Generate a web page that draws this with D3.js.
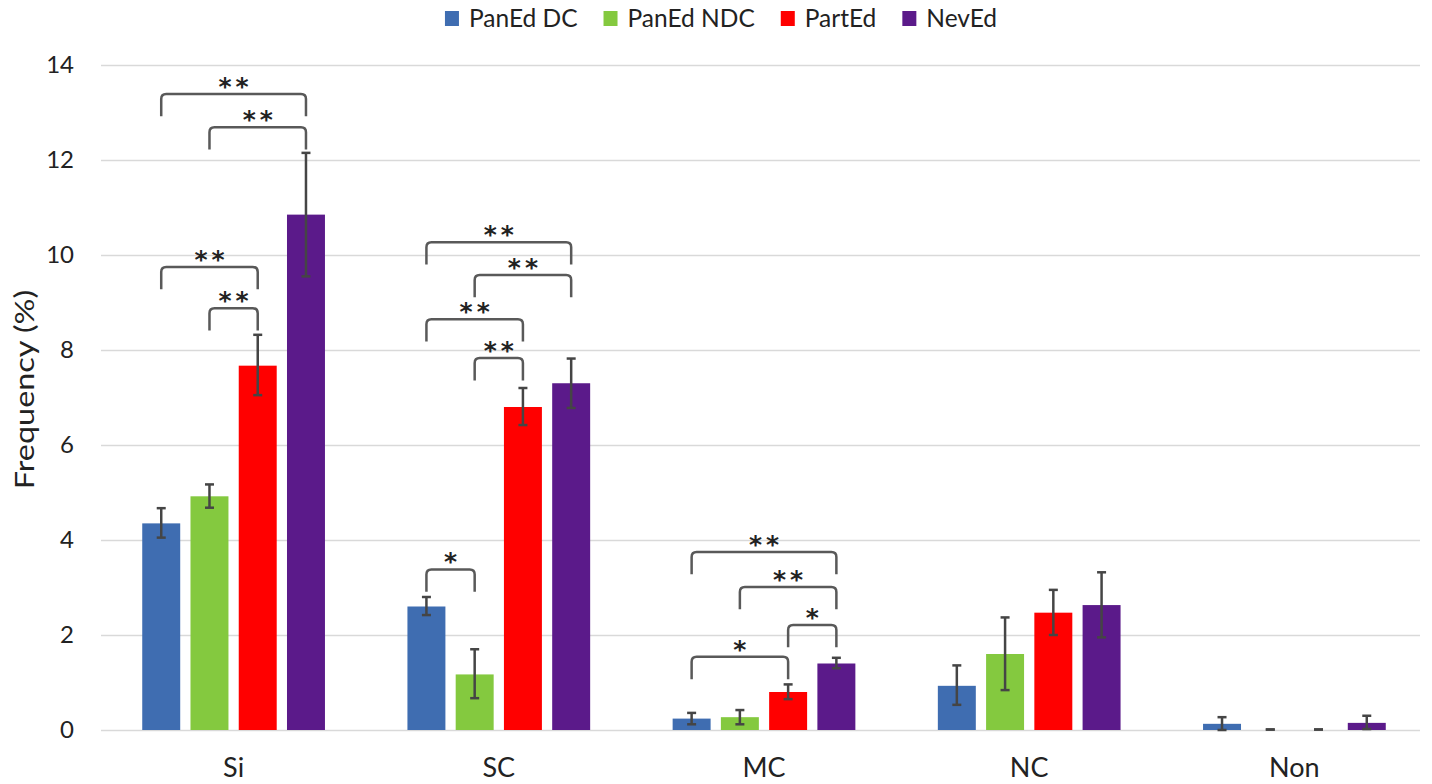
<!DOCTYPE html>
<html>
<head>
<meta charset="utf-8">
<script src="https://cdn.jsdelivr.net/npm/d3@7"></script>
<style>
  body { margin: 0; background: #fff; }
  text { font-family: Lato, "Open Sans", sans-serif; fill: #222; }
</style>
</head>
<body>
<div class="svg-container"></div>
<script>
// data
const categories = ['Si', 'SC', 'MC', 'NC', 'Non'];
const seriesNames = ['PanEd DC', 'PanEd NDC', 'PartEd', 'NevEd'];
const seriesColours = ['#3f6db1', '#84c93f', '#ff0000', '#5b1a8a'];

const panEdDC  = [4.35, 2.60, 0.24, 0.93, 0.13];
const panEdNDC = [4.92, 1.17, 0.27, 1.60, 0.00];
const partEd   = [7.67, 6.80, 0.80, 2.47, 0.00];
const nevEd    = [10.85, 7.30, 1.40, 2.63, 0.15];

// error bar lows / highs
const panEdDCLo  = [4.05, 2.42, 0.12, 0.53, 0.00];
const panEdDCHi  = [4.67, 2.80, 0.36, 1.36, 0.27];
const panEdNDCLo = [4.68, 0.67, 0.12, 0.84, 0.01];
const panEdNDCHi = [5.17, 1.70, 0.42, 2.37, 0.01];
const partEdLo   = [7.05, 6.42, 0.65, 2.00, 0.01];
const partEdHi   = [8.32, 7.20, 0.96, 2.95, 0.01];
const nevEdLo    = [9.55, 6.78, 1.30, 1.95, 0.02];
const nevEdHi    = [12.15, 7.82, 1.52, 3.32, 0.30];

const yTicks = [0, 2, 4, 6, 8, 10, 12, 14];

// significance brackets: category, from series, to series, bracket top value, label
const brackets = [
  ['Si', 0, 3, 13.39, '**'],
  ['Si', 1, 3, 12.69, '**'],
  ['Si', 0, 2, 9.75, '**'],
  ['Si', 1, 2, 8.88, '**'],
  ['SC', 0, 3, 10.27, '**'],
  ['SC', 1, 3, 9.58, '**'],
  ['SC', 0, 2, 8.65, '**'],
  ['SC', 1, 2, 7.83, '**'],
  ['SC', 0, 1, 3.38, '*'],
  ['MC', 0, 3, 3.75, '**'],
  ['MC', 1, 3, 3.01, '**'],
  ['MC', 2, 3, 2.21, '*'],
  ['MC', 0, 2, 1.54, '*']
];

const values = [panEdDC, panEdNDC, partEd, nevEd];
const lows = [panEdDCLo, panEdNDCLo, partEdLo, nevEdLo];
const highs = [panEdDCHi, panEdNDCHi, partEdHi, nevEdHi];

function renderChart() {
  const width = 1432;
  const height = 784;
  const margin = { top: 65, right: 6, bottom: 54, left: 101 };
  const legHeight = 0.47; // bracket leg, in data units

  const svg = d3.select('.svg-container')
    .append('svg')
    .attr('width', width)
    .attr('height', height);

  const x0 = d3.scaleBand()
    .domain(categories)
    .range([margin.left, width - margin.right + 1])
    .paddingInner(0.311)
    .paddingOuter(0.1555);

  const x1 = d3.scaleBand()
    .domain(d3.range(seriesNames.length))
    .range([0, x0.bandwidth()])
    .paddingInner(0.213);

  const y = d3.scaleLinear()
    .domain([0, 14])
    .range([height - margin.bottom, margin.top]);

  // gridlines + tick labels
  const yAxis = d3.axisLeft(y)
    .tickValues(yTicks)
    .tickSize(-(width - margin.left - 12))
    .tickPadding(27);

  const gy = svg.append('g')
    .attr('transform', `translate(${margin.left},0)`)
    .call(yAxis);
  gy.select('.domain').remove();
  gy.selectAll('.tick line').attr('stroke', '#d9d9d9').attr('stroke-width', 1.3);
  gy.selectAll('.tick text')
    .style('font-size', '24px')
    .attr('fill', '#222');

  // x labels
  const xAxis = d3.axisBottom(x0).tickSize(0).tickPadding(28);
  const gx = svg.append('g')
    .attr('transform', `translate(0,${y(0)})`)
    .call(xAxis);
  gx.select('.domain').remove();
  gx.selectAll('.tick text')
    .style('font-size', '27px')
    .attr('fill', '#111');

  // y title
  svg.append('text')
    .attr('transform', `translate(34,${(margin.top + y(0)) / 2 - 8}) rotate(-90) scale(1.2,1)`)
    .attr('text-anchor', 'middle')
    .style('font-size', '27px')
    .text('Frequency (%)');

  const barX = (ci, si) => x0(categories[ci]) + x1(si);
  const barMid = (ci, si) => barX(ci, si) + x1.bandwidth() / 2;

  // bars
  seriesNames.forEach((name, si) => {
    svg.append('g')
      .selectAll('rect')
      .data(values[si])
      .enter()
      .append('rect')
      .attr('x', (d, ci) => barX(ci, si))
      .attr('y', d => y(d))
      .attr('width', x1.bandwidth())
      .attr('height', d => y(0) - y(d))
      .attr('fill', seriesColours[si]);
  });

  // error bars
  const cap = 4.5;
  seriesNames.forEach((name, si) => {
    const g = svg.append('g')
      .attr('stroke', '#454545')
      .attr('stroke-width', 2.5);
    const idx = d3.range(categories.length);
    g.selectAll('line.stem')
      .data(idx)
      .enter()
      .append('line')
      .attr('x1', ci => barMid(ci, si))
      .attr('x2', ci => barMid(ci, si))
      .attr('y1', ci => y(lows[si][ci]))
      .attr('y2', ci => y(highs[si][ci]));
    g.selectAll('line.lo')
      .data(idx)
      .enter()
      .append('line')
      .attr('x1', ci => barMid(ci, si) - cap)
      .attr('x2', ci => barMid(ci, si) + cap)
      .attr('y1', ci => y(lows[si][ci]))
      .attr('y2', ci => y(lows[si][ci]));
    g.selectAll('line.hi')
      .data(idx)
      .enter()
      .append('line')
      .attr('x1', ci => barMid(ci, si) - cap)
      .attr('x2', ci => barMid(ci, si) + cap)
      .attr('y1', ci => y(highs[si][ci]))
      .attr('y2', ci => y(highs[si][ci]));
  });

  // significance brackets
  const r = 5;
  const spacing = 4;
  const bg = svg.append('g');
  brackets.forEach(([cat, a, b, top, label]) => {
    const ci = categories.indexOf(cat);
    const xa = barMid(ci, a);
    const xb = barMid(ci, b);
    const yt = y(top);
    const yl = y(top - legHeight);
    bg.append('path')
      .attr('d', `M${xa},${yl} L${xa},${yt + r} Q${xa},${yt} ${xa + r},${yt} ` +
                 `L${xb - r},${yt} Q${xb},${yt} ${xb},${yt + r} L${xb},${yl}`)
      .attr('fill', 'none')
      .attr('stroke', '#595959')
      .attr('stroke-width', 2.5);
    bg.append('text')
      .attr('x', (xa + xb) / 2 + spacing / 2)
      .attr('y', yt + 1)
      .attr('text-anchor', 'middle')
      .style('font-family', '"DejaVu Sans", sans-serif')
      .style('font-size', '25px')
      .style('font-weight', 'bold')
      .style('letter-spacing', `${spacing}px`)
      .attr('fill', '#111')
      .text(label);
  });

  // legend
  const legend = svg.append('g').attr('id', 'legend');
  const items = legend.selectAll('g')
    .data(seriesNames)
    .enter()
    .append('g');
  items.append('rect')
    .attr('width', 14)
    .attr('height', 15)
    .attr('y', 11)
    .attr('fill', (d, i) => seriesColours[i]);
  items.append('text')
    .attr('x', 24)
    .attr('y', 27)
    .style('font-size', '24.5px')
    .text(d => d);

  let offset = 0;
  const gap = 26;
  const widths = [];
  items.each(function() {
    widths.push(this.getBBox().width);
  });
  const total = d3.sum(widths) + gap * (widths.length - 1);
  const startX = 721 - total / 2;
  items.attr('transform', (d, i) => {
    const t = `translate(${startX + offset},0)`;
    offset += widths[i] + gap;
    return t;
  });
}

renderChart();
</script>
</body>
</html>
